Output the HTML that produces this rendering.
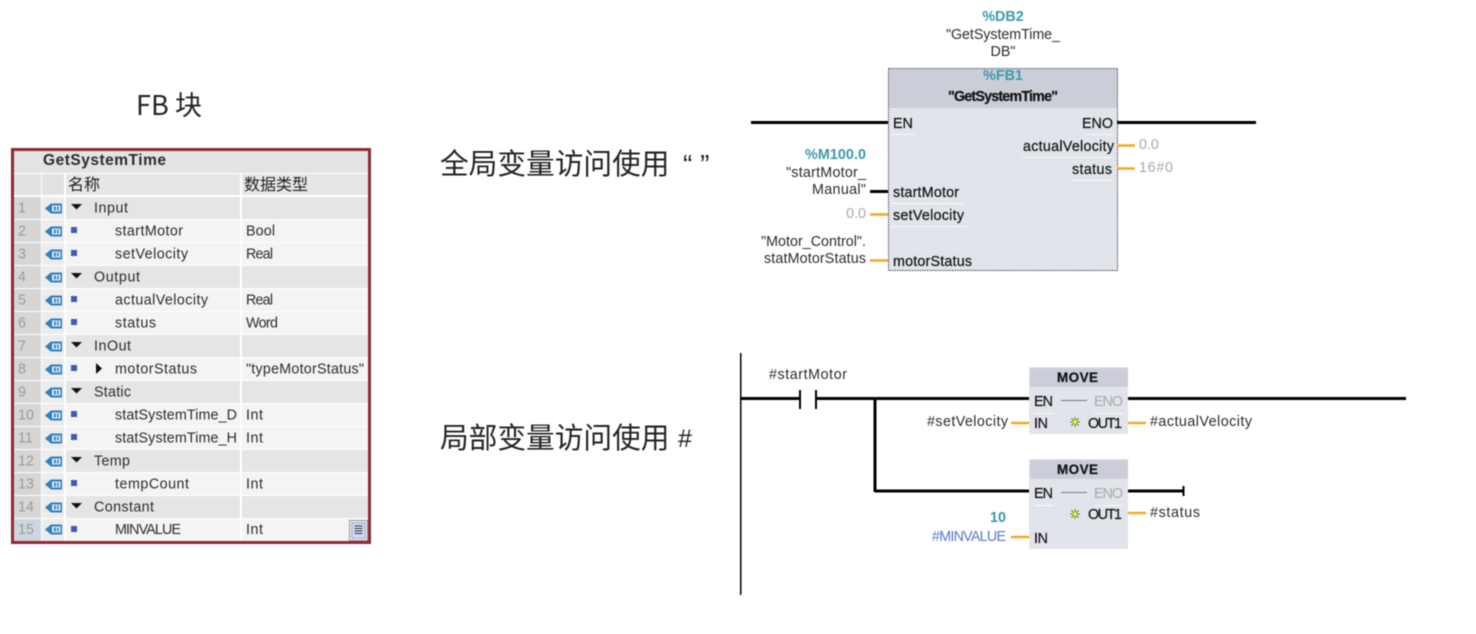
<!DOCTYPE html>
<html><head><meta charset="utf-8">
<style>
html,body{margin:0;padding:0;background:#fff;width:1476px;height:634px;overflow:hidden}
svg{display:block;filter:blur(.4px)}
text{font-family:"Liberation Sans","Noto Sans CJK SC",sans-serif;font-size:14.3px;fill:#2c2c2c}
.cjk{font-family:"Noto Sans CJK SC","Liberation Sans",sans-serif;fill:#222;font-weight:400}
.n{fill:#9a9a9a}
.t{fill:#3a9aa8;font-weight:bold}
.b{fill:#111;stroke:#111;stroke-width:.2}
.g{fill:#a8a8a8}
.w{stroke:#000;stroke-width:3;fill:none}
.o{stroke:#f5a623;stroke-width:2.5;fill:none}
.u{stroke:#fafafa;stroke-width:1;fill:none}
</style></head><body>
<svg width="1476" height="634" viewBox="0 0 1476 634" xmlns="http://www.w3.org/2000/svg">
<defs>
<g id="ic"><path d="M0 5.5 L6 0.5 H17 V10.5 H6 Z" fill="#2f7fc0"/><rect x="7" y="2.500" width="8.500" height="6" fill="#dcebf7"/><rect x="9" y="3.500" width="1.800" height="4" fill="#2f7fc0"/><rect x="12.200" y="3.500" width="1.500" height="4" fill="#2f7fc0"/></g>
<g id="tri"><path d="M0 0 H11 L5.500 5.500 Z" fill="#111"/></g>
<rect id="sq" width="6" height="6" fill="#3f5bb5"/>
<g id="star"><circle cx="0" cy="0" r="3.200" fill="#e8e84a"/><path d="M-5 0H5M0-5V5M-3.600-3.600L3.600 3.600M-3.600 3.600L3.600-3.600" stroke="#5b8a2a" stroke-width="1.100"/><circle cx="0" cy="0" r="1.800" fill="#f4f47a"/></g>
</defs>

<!-- titles -->
<text class="cjk" x="136" y="115" style="font-size:27px" textLength="66">FB 块</text>
<text class="cjk" x="440" y="174" style="font-size:28.700px">全局变量访问使用</text>
<text x="683" y="174" style="font-size:28px;fill:#222">“ ”</text>
<text class="cjk" x="440" y="448" style="font-size:28.700px">局部变量访问使用</text>
<text x="678" y="447" style="font-size:25px;fill:#222">#</text>

<!-- table -->
<rect x="12.500" y="149.500" width="357" height="393" fill="#fff" stroke="#8f2a35" stroke-width="3"/>
<rect x="14" y="151" width="354" height="22" fill="#e3e3e3"/>
<text x="43" y="165" style="font-size:15.500px;font-weight:bold" textLength="123">GetSystemTime</text>
<rect x="14" y="174" width="27" height="21" fill="#e2e2e2"/>
<rect x="42" y="174" width="22" height="21" fill="#e2e2e2"/>
<rect x="66" y="174" width="174" height="21" fill="#e6e6e6"/>
<rect x="242" y="174" width="126" height="21" fill="#e6e6e6"/>
<text class="cjk" x="68" y="190" style="font-size:16px">名称</text>
<text class="cjk" x="244" y="190" style="font-size:16px">数据类型</text>

<!-- row backgrounds -->
<rect x="14" y="197" width="27" height="344" fill="#d6d6d6"/>
<rect x="14" y="519" width="27" height="22" fill="#cdd6e0"/>
<rect x="42" y="197" width="22" height="344" fill="#ececec"/>
<g fill="#f4f4f4">
<rect x="66" y="220" width="174" height="22"/><rect x="242" y="220" width="126" height="22"/>
<rect x="66" y="243" width="174" height="22"/><rect x="242" y="243" width="126" height="22"/>
<rect x="66" y="289" width="174" height="22"/><rect x="242" y="289" width="126" height="22"/>
<rect x="66" y="312" width="174" height="22"/><rect x="242" y="312" width="126" height="22"/>
<rect x="66" y="358" width="174" height="22"/><rect x="242" y="358" width="126" height="22"/>
<rect x="66" y="404" width="174" height="22"/><rect x="242" y="404" width="126" height="22"/>
<rect x="66" y="427" width="174" height="22"/><rect x="242" y="427" width="126" height="22"/>
<rect x="66" y="473" width="174" height="22"/><rect x="242" y="473" width="126" height="22"/>
<rect x="66" y="519" width="174" height="22"/><rect x="242" y="519" width="126" height="22"/>
</g>
<g fill="#e5e5e5">
<rect x="66" y="197" width="174" height="22"/><rect x="242" y="197" width="126" height="22"/>
<rect x="66" y="266" width="174" height="22"/><rect x="242" y="266" width="126" height="22"/>
<rect x="66" y="335" width="174" height="22"/><rect x="242" y="335" width="126" height="22"/>
<rect x="66" y="381" width="174" height="22"/><rect x="242" y="381" width="126" height="22"/>
<rect x="66" y="450" width="174" height="22"/><rect x="242" y="450" width="126" height="22"/>
<rect x="66" y="496" width="174" height="22"/><rect x="242" y="496" width="126" height="22"/>
</g>
<path d="M14 219.500H368M14 242.500H368M14 265.500H368M14 288.500H368M14 311.500H368M14 334.500H368M14 357.500H368M14 380.500H368M14 403.500H368M14 426.500H368M14 449.500H368M14 472.500H368M14 495.500H368M14 518.500H368" stroke="#fff" stroke-width="1"/>

<!-- row numbers -->
<text class="n" x="18" y="212.500">1</text><text class="n" x="18" y="235.500">2</text><text class="n" x="18" y="258.500">3</text><text class="n" x="18" y="281.500">4</text><text class="n" x="18" y="304.500">5</text><text class="n" x="18" y="327.500">6</text><text class="n" x="18" y="350.500">7</text><text class="n" x="18" y="373.500">8</text><text class="n" x="18" y="396.500">9</text><text class="n" x="18" y="419.500">10</text><text class="n" x="18" y="442.500">11</text><text class="n" x="18" y="465.500">12</text><text class="n" x="18" y="488.500">13</text><text class="n" x="18" y="511.500">14</text><text class="n" x="18" y="534">15</text>

<!-- icons -->
<use href="#ic" x="45" y="203"/><use href="#ic" x="45" y="226"/><use href="#ic" x="45" y="249"/><use href="#ic" x="45" y="272"/><use href="#ic" x="45" y="295"/><use href="#ic" x="45" y="318"/><use href="#ic" x="45" y="341"/><use href="#ic" x="45" y="364"/><use href="#ic" x="45" y="387"/><use href="#ic" x="45" y="410"/><use href="#ic" x="45" y="433"/><use href="#ic" x="45" y="456"/><use href="#ic" x="45" y="479"/><use href="#ic" x="45" y="502"/><use href="#ic" x="45" y="524"/>

<use href="#tri" x="71" y="204"/><use href="#tri" x="71" y="273"/><use href="#tri" x="71" y="342"/><use href="#tri" x="71" y="388"/><use href="#tri" x="71" y="457"/><use href="#tri" x="71" y="503"/>
<use href="#sq" x="71" y="227"/><use href="#sq" x="71" y="250"/><use href="#sq" x="71" y="296"/><use href="#sq" x="71" y="319"/><use href="#sq" x="71" y="365"/><use href="#sq" x="71" y="411"/><use href="#sq" x="71" y="434"/><use href="#sq" x="71" y="480"/><use href="#sq" x="71" y="526"/>
<path d="M96 363 L102 368.500 L96 374 Z" fill="#111"/>

<!-- names -->
<text x="94" y="212.500" textLength="34">Input</text>
<text x="115" y="235.500" textLength="68">startMotor</text>
<text x="115" y="258.500" textLength="73">setVelocity</text>
<text x="94" y="281.500" textLength="46">Output</text>
<text x="115" y="304.500" textLength="93">actualVelocity</text>
<text x="115" y="327.500" textLength="41">status</text>
<text x="94" y="350.500" textLength="37">InOut</text>
<text x="115" y="373.500" textLength="82">motorStatus</text>
<text x="94" y="396.500" textLength="37">Static</text>
<text x="115" y="419.500" textLength="122">statSystemTime_D</text>
<text x="115" y="442.500" textLength="122">statSystemTime_H</text>
<text x="94" y="465.500" textLength="36">Temp</text>
<text x="115" y="488.500" textLength="74">tempCount</text>
<text x="94" y="511.500" textLength="60">Constant</text>
<text x="115" y="534" textLength="66">MINVALUE</text>

<!-- types -->
<text x="246" y="235.500" textLength="29">Bool</text>
<text x="246" y="258.500" textLength="27">Real</text>
<text x="246" y="304.500" textLength="27">Real</text>
<text x="246" y="327.500" textLength="32">Word</text>
<text x="246" y="373.500" textLength="118">"typeMotorStatus"</text>
<text x="246" y="419.500" textLength="17">Int</text>
<text x="246" y="442.500" textLength="17">Int</text>
<text x="246" y="488.500" textLength="17">Int</text>
<text x="246" y="534" textLength="17">Int</text>

<rect x="349.500" y="520.500" width="18" height="20" fill="#e8e8e8" stroke="#9a9a9a"/>
<rect x="352" y="523" width="13" height="15" fill="#d5dcf5" stroke="#8890c0" stroke-width=".7"/>
<path d="M354.500 526H362.500M354.500 528.500H362.500M354.500 531H362.500M354.500 533.500H362.500" stroke="#333" stroke-width="1"/>

<!-- FB block -->
<rect x="888.500" y="68.500" width="229" height="202" fill="#e2e4eb"/>
<rect x="889" y="69" width="228" height="39" fill="#cbced8"/>
<rect x="888.500" y="68.500" width="229" height="202" fill="none" stroke="#444" stroke-dasharray="1.500 1"/>
<path class="u" d="M891 134.500H915M1085 134.500H1113M1022 157.500H1113M1072 180.500H1113M891 203.500H964M891 226.500H968"/>
<text class="t" x="1003" y="21" text-anchor="middle">%DB2</text>
<text x="946" y="39" textLength="114">"GetSystemTime_</text>
<text x="1003" y="56" text-anchor="middle">DB"</text>
<text class="t" x="1003" y="80" text-anchor="middle">%FB1</text>
<text x="948" y="101" textLength="110" style="font-weight:bold" class="b">"GetSystemTime"</text>
<text class="b" x="893" y="128">EN</text>
<text class="b" x="1113" y="128" text-anchor="end">ENO</text>
<text class="b" x="1023" y="151" textLength="91">actualVelocity</text>
<text class="b" x="1072" y="174" textLength="40">status</text>
<text class="b" x="893" y="197" textLength="66">startMotor</text>
<text class="b" x="893" y="220" textLength="71">setVelocity</text>
<text class="b" x="893" y="266" textLength="79">motorStatus</text>
<text class="g" x="1139" y="149">0.0</text>
<text class="g" x="1139" y="172" textLength="34">16#0</text>
<text class="t" x="805" y="159" textLength="61">%M100.0</text>
<text x="786" y="177" textLength="80">"startMotor_</text>
<text x="812" y="194" textLength="54">Manual"</text>
<text class="g" x="866" y="218" text-anchor="end">0.0</text>
<text x="761" y="246" textLength="105">"Motor_Control".</text>
<text x="764" y="263" textLength="102">statMotorStatus</text>
<path class="w" d="M751 122.500H888M1117 122.500H1256"/>
<path class="w" d="M870 191.500H888"/>
<path class="o" d="M1117 145.500H1135M1117 168.500H1135M870 214.500H888M870 260.500H888"/>

<!-- Ladder -->
<path d="M740.750 353V595" stroke="#000" stroke-width="1.500"/>
<path class="w" d="M741 398.500H800M815 398.500H1029M875 398V492M875 491H1029M1128 398.500H1406M1128 491H1183"/>
<path d="M800 390V409M816 390V409M1183.500 486V496" stroke="#000" stroke-width="2" fill="none"/>
<text x="769" y="379" textLength="78">#startMotor</text>

<rect x="1029" y="367" width="99" height="67" fill="#e2e4eb"/>
<rect x="1030" y="368" width="98" height="19" fill="#cbced8"/>
<rect x="1029" y="459" width="99" height="90" fill="#e2e4eb"/>
<rect x="1030" y="460" width="98" height="19" fill="#cbced8"/>
<path class="u" d="M1034 413.500H1054M1094 413.500H1123M1034 505.500H1054M1094 505.500H1123"/>
<path d="M1061 400.500H1087M1061 492.500H1087" stroke="#777" stroke-width="1"/>

<text class="b" x="1057" y="382" textLength="41" style="font-weight:bold;font-size:13.500px">MOVE</text>
<text class="b" x="1034" y="406" textLength="19">EN</text>
<text class="g" x="1094" y="406" textLength="29">ENO</text>
<text class="b" x="1034" y="428" textLength="14">IN</text>
<text class="b" x="1088" y="428" textLength="34">OUT1</text>
<use href="#star" x="1075" y="422"/>

<text class="b" x="1057" y="474" textLength="41" style="font-weight:bold;font-size:13.500px">MOVE</text>
<text class="b" x="1034" y="498" textLength="19">EN</text>
<text class="g" x="1094" y="498" textLength="29">ENO</text>
<text class="b" x="1034" y="543" textLength="14">IN</text>
<text class="b" x="1088" y="519" textLength="34">OUT1</text>
<use href="#star" x="1075" y="514"/>

<path class="o" d="M1011 423H1029M1128 423H1146M1011 537H1029M1128 513H1146"/>
<text x="927" y="426" textLength="81">#setVelocity</text>
<text x="1150" y="426" textLength="102">#actualVelocity</text>
<text x="1150" y="517" textLength="50">#status</text>
<text class="t" x="990" y="522" textLength="16">10</text>
<text x="932" y="541" textLength="74" style="fill:#5a78c8">#MINVALUE</text>
</svg>
</body></html>
